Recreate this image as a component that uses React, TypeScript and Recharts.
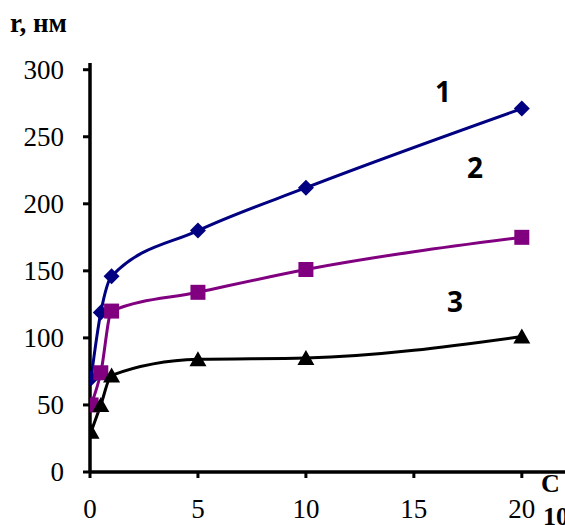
import { LineChart, Line, XAxis, YAxis } from "recharts";

// concentration (x) and particle radius r, nm for the three samples
const concentrations = [0.05, 0.5, 1, 5, 10, 20];
const radius1 = [70, 119, 146, 180, 212, 271];
const radius2 = [50, 74, 120, 134, 151, 175];
const radius3 = [30, 50, 72, 84, 85, 101];

const xTicks = [0, 5, 10, 15, 20];
const yTicks = [0, 50, 100, 150, 200, 250, 300];

const rows = concentrations.map((c, i) => ({
    c,
    r1: radius1[i],
    r2: radius2[i],
    r3: radius3[i],
}));

const serif = "Liberation Serif, Times New Roman, serif";

function Diamond({ cx, cy, index }: any) {
    const s = 8;
    return (
        <path
            key={`d-${index}`}
            d={`M${cx},${cy - s} L${cx + s},${cy} L${cx},${cy + s} L${cx - s},${cy} Z`}
            fill="#000080"
        />
    );
}

function Square({ cx, cy, index }: any) {
    const s = 7.5;
    return <rect key={`s-${index}`} x={cx - s} y={cy - s} width={s * 2} height={s * 2} fill="#800080" />;
}

function Triangle({ cx, cy, index }: any) {
    return (
        <path
            key={`t-${index}`}
            d={`M${cx},${cy - 8} L${cx + 8.5},${cy + 7} L${cx - 8.5},${cy + 7} Z`}
            fill="#000"
        />
    );
}

// x tick labels sit well below the axis line
function XTick({ x, y, payload }: any) {
    return (
        <text x={x} y={y + 38} textAnchor="middle" style={{ fontFamily: serif, fontSize: 27 }} fill="#000">
            {payload.value}
        </text>
    );
}

function YTick({ x, y, payload }: any) {
    return (
        <text x={x - 17} y={y + 9} textAnchor="end" style={{ fontFamily: serif, fontSize: 27 }} fill="#000">
            {payload.value}
        </text>
    );
}

export default function App() {
    return (
        <div style={{ position: "absolute", left: 0, top: 0, width: 565, height: 525, background: "#fff" }}>
            <LineChart width={565} height={525} data={rows} margin={{ top: 63, right: 0, bottom: 0, left: 0 }}>
                <XAxis
                    dataKey="c"
                    type="number"
                    domain={[0, 22]}
                    ticks={xTicks}
                    allowDataOverflow
                    height={53}
                    stroke="#000"
                    strokeWidth={3.5}
                    tickSize={6}
                    tick={XTick}
                    tickLine={{ stroke: "#000", strokeWidth: 3 }}
                />
                <YAxis
                    type="number"
                    domain={[0, 305]}
                    ticks={yTicks}
                    allowDataOverflow
                    width={90}
                    stroke="#000"
                    strokeWidth={3.5}
                    tickSize={7}
                    tick={YTick}
                    tickLine={{ stroke: "#000", strokeWidth: 3 }}
                />
                <Line
                    dataKey="r1"
                    type="monotone"
                    stroke="#000080"
                    strokeWidth={3}
                    dot={Diamond}
                    activeDot={false}
                    isAnimationActive={false}
                />
                <Line
                    dataKey="r2"
                    type="monotone"
                    stroke="#800080"
                    strokeWidth={3}
                    dot={Square}
                    activeDot={false}
                    isAnimationActive={false}
                />
                <Line
                    dataKey="r3"
                    type="monotone"
                    stroke="#000"
                    strokeWidth={3}
                    dot={Triangle}
                    activeDot={false}
                    isAnimationActive={false}
                />
            </LineChart>
            <svg width={565} height={525} style={{ position: "absolute", left: 0, top: 0, pointerEvents: "none" }}>
                <text x={10} y={32} style={{ fontFamily: serif, fontWeight: "bold", fontSize: 27 }} fill="#000">
                    r, нм
                </text>
                <g style={{ fontFamily: "Open Sans, sans-serif", fontWeight: "bold", fontSize: 28 }} fill="#000" textAnchor="middle">
                    <text x={443} y={102}>1</text>
                    <text x={475} y={178}>2</text>
                    <text x={455} y={312}>3</text>
                </g>
                <text x={541} y={492} style={{ fontFamily: serif, fontWeight: "bold", fontSize: 26 }} fill="#000">
                    С
                </text>
                <text x={543} y={525} style={{ fontFamily: serif, fontWeight: "bold", fontSize: 26 }} fill="#000">
                    10
                </text>
            </svg>
        </div>
    );
}
